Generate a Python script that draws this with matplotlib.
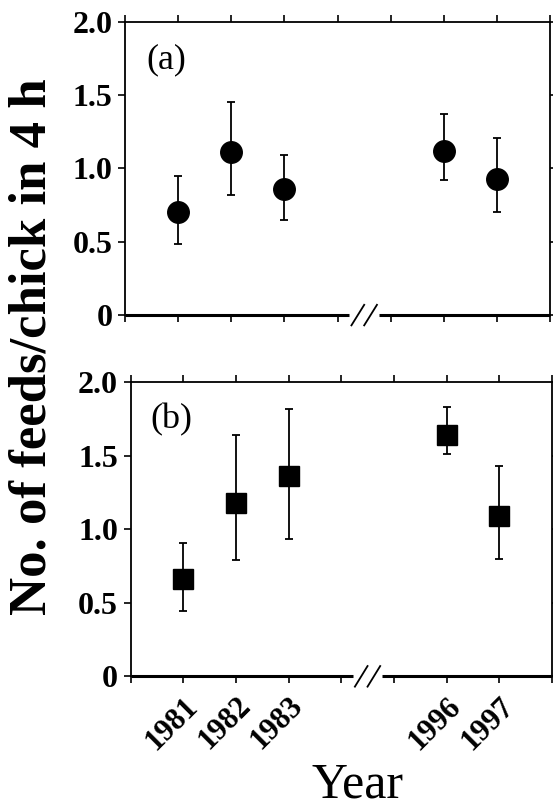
import matplotlib
matplotlib.use('Agg')
import numpy as np
import matplotlib.pyplot as plt

# Data
years = ['1981', '1982', '1983', '1996', '1997']
year_pos = [1, 2, 3, 6, 7]   # positions on the broken axis

# (a) circles
mean_a = [0.70, 1.11, 0.86, 1.12, 0.93]
upper_a = [0.95, 1.455, 1.09, 1.375, 1.21]
lower_a = [0.485, 0.82, 0.65, 0.92, 0.70]

# (b) squares
mean_b = [0.66, 1.18, 1.36, 1.64, 1.09]
upper_b = [0.91, 1.64, 1.82, 1.83, 1.43]
lower_b = [0.445, 0.79, 0.935, 1.51, 0.80]

yticks = [0, 0.5, 1.0, 1.5, 2.0]
ytick_labels = ['0', '0.5', '1.0', '1.5', '2.0']

plt.rcParams['font.family'] = ['Liberation Serif', 'DejaVu Serif']

fig = plt.figure(figsize=(5.53, 8.10), dpi=100)
ax_a = fig.add_axes([0.226, 0.611, 0.769, 0.362])
ax_b = fig.add_axes([0.236, 0.165, 0.762, 0.363])

break_x = 4.5


def style_axis(ax, show_xlabels):
    ax.set_xlim(0, 8)
    ax.set_ylim(0, 2.0)
    ax.set_xticks(np.arange(0, 9))
    if show_xlabels:
        labels = [''] * 9
        for p, y in zip(year_pos, years):
            labels[p] = y
        ax.set_xticklabels(labels, rotation=45, ha='right', rotation_mode='anchor',
                           fontsize=22, fontweight='bold')
    else:
        ax.set_xticklabels([])
    ax.set_yticks(yticks)
    ax.set_yticklabels(ytick_labels, fontsize=23, fontweight='bold')
    ax.tick_params(axis='both', direction='out', length=5, width=1.2,
                   top=True, right=True, pad=4)
    ax.tick_params(axis='x', pad=6)
    ax.tick_params(axis='y', right=True, labelright=False)
    for s in ['top', 'left', 'right']:
        ax.spines[s].set_linewidth(1.3)
    # broken bottom spine
    ax.spines['bottom'].set_visible(False)
    tr = ax.get_xaxis_transform()
    ax.plot([0, break_x - 0.28], [0, 0], color='black', lw=2.2,
            transform=tr, clip_on=False, solid_capstyle='butt')
    ax.plot([break_x + 0.28, 8], [0, 0], color='black', lw=2.2,
            transform=tr, clip_on=False, solid_capstyle='butt')
    for dx in (-0.12, 0.12):
        ax.plot([break_x + dx - 0.12, break_x + dx + 0.12], [-0.035, 0.035],
                color='black', lw=1.3, transform=tr, clip_on=False)


def draw(ax, mean, lo, hi, marker, size):
    mean = np.array(mean)
    yerr = [mean - np.array(lo), np.array(hi) - mean]
    ax.errorbar(year_pos, mean, yerr=yerr, fmt=marker, color='black',
                markersize=size, ecolor='black', elinewidth=1.3, capsize=3,
                capthick=1.3, zorder=3)


style_axis(ax_a, False)
draw(ax_a, mean_a, lower_a, upper_a, 'o', 15.5)
ax_a.text(0.05, 0.87, '(a)', transform=ax_a.transAxes, fontsize=26,
          va='center', ha='left')

style_axis(ax_b, True)
draw(ax_b, mean_b, lower_b, upper_b, 's', 14.5)
ax_b.text(0.047, 0.874, '(b)', transform=ax_b.transAxes, fontsize=26,
          va='center', ha='left')

fig.text(0.058, 0.572, 'No. of feeds/chick in 4 h', rotation=90, fontsize=38,
         fontweight='bold', ha='center', va='center')
fig.text(0.647, 0.031, 'Year', fontsize=36, ha='center', va='center')

fig.savefig('out.png', dpi=100)
